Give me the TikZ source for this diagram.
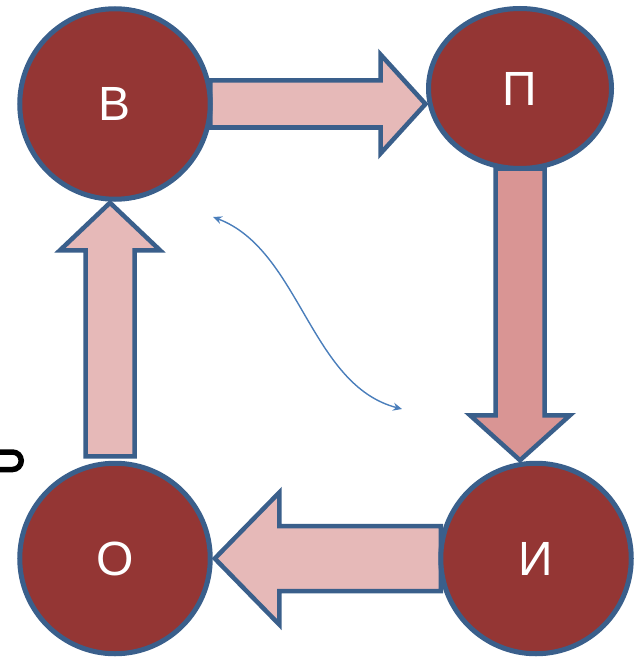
\documentclass[tikz,border=0pt]{standalone}
\usepackage{fontspec}
\setmainfont{Liberation Sans}
\usetikzlibrary{calc,shapes.geometric,arrows.meta,backgrounds}

\definecolor{discfill}{HTML}{943634}
\definecolor{rimblue}{HTML}{3A5F8B}
\definecolor{pinkfill}{HTML}{E6B9B8}
\definecolor{rosefill}{HTML}{D99594}
\definecolor{linkblue}{HTML}{4A7EBB}

\begin{document}
\begin{tikzpicture}[x=1pt,y=-1pt,
  disc/.style={circle, draw=rimblue, line width=5pt, fill=discfill,
    text=white, inner sep=0pt, outer sep=0pt, minimum size=190.5pt,
    font=\fontsize{48}{50}\selectfont},
  arrowbody/.style={draw=rimblue, line width=4.5pt, line join=miter},
  % block arrow outline from start to target: shaft half-width / head half-width / head length
  blockarrow/.style n args={3}{
    to path={
      ($(\tikztostart)!#1!90:(\tikztotarget)$)
      -- ($($(\tikztotarget)!#3!(\tikztostart)$)!#1!90:(\tikztotarget)$)
      -- ($($(\tikztotarget)!#3!(\tikztostart)$)!#2!90:(\tikztotarget)$)
      -- (\tikztotarget)
      -- ($($(\tikztotarget)!#3!(\tikztostart)$)!#2!-90:(\tikztotarget)$)
      -- ($($(\tikztotarget)!#3!(\tikztostart)$)!#1!-90:(\tikztotarget)$)
      -- ($(\tikztostart)!#1!-90:(\tikztotarget)$)
      -- cycle}},
  link/.style={draw=linkblue, line width=1.4pt,
    {Stealth[length=9pt,width=8pt,inset=3pt]}-{Stealth[length=9pt,width=8pt,inset=3pt]}}
]
\useasboundingbox (0,0) rectangle (633,658);

% the four stages
\node[disc] (B) at (115,104) {В};
\node[disc, ellipse, minimum width=183pt, minimum height=160pt] (P) at (520,88.5) {П};
\node[disc] (I) at (536,558.5) {И};
\node[disc] (O) at (115,558.5) {О};

% arrow end points
\coordinate (bp-s) at (B.east);
\coordinate (bp-t) at ($(P.west |- B.east)+(-3,0)$);
\coordinate (pi-s) at (P.south);
\coordinate (pi-t) at ($(P.south |- I.north)+(0,-3)$);
\coordinate (io-s) at (I.west);
\coordinate (io-t) at ($(O.east)+(4.5,0)$);
\coordinate (ob-s) at ($(O.north)+(-5,-7)$);
\coordinate (ob-t) at ($(B.south)+(-5,3.5)$);

\begin{scope}[on background layer]
  \path[arrowbody, fill=pinkfill] (bp-s) to[blockarrow={23.5pt}{49.5pt}{45pt}] (bp-t);
  \path[arrowbody, fill=rosefill] (pi-s) to[blockarrow={24.5pt}{50pt}{45pt}] (pi-t);
  \path[arrowbody, fill=pinkfill] (io-s) to[blockarrow={32.5pt}{66pt}{64.5pt}] (io-t);
  \path[arrowbody, fill=pinkfill] (ob-s) to[blockarrow={24.5pt}{50pt}{47.5pt}] (ob-t);
\end{scope}

% thin two-way link across the middle
\coordinate (cv-a) at (213,217);
\coordinate (cv-b) at (402,409);
\draw[link] (cv-a) .. controls (300,250) and (310,385) .. (cv-b);

% fragment of a letter at the left edge
\draw[line width=5.5pt] (0,452) -- (12.5,452)
  arc[start angle=90, end angle=-90, radius=8.75pt] -- (0,469.5);
\end{tikzpicture}
\end{document}
